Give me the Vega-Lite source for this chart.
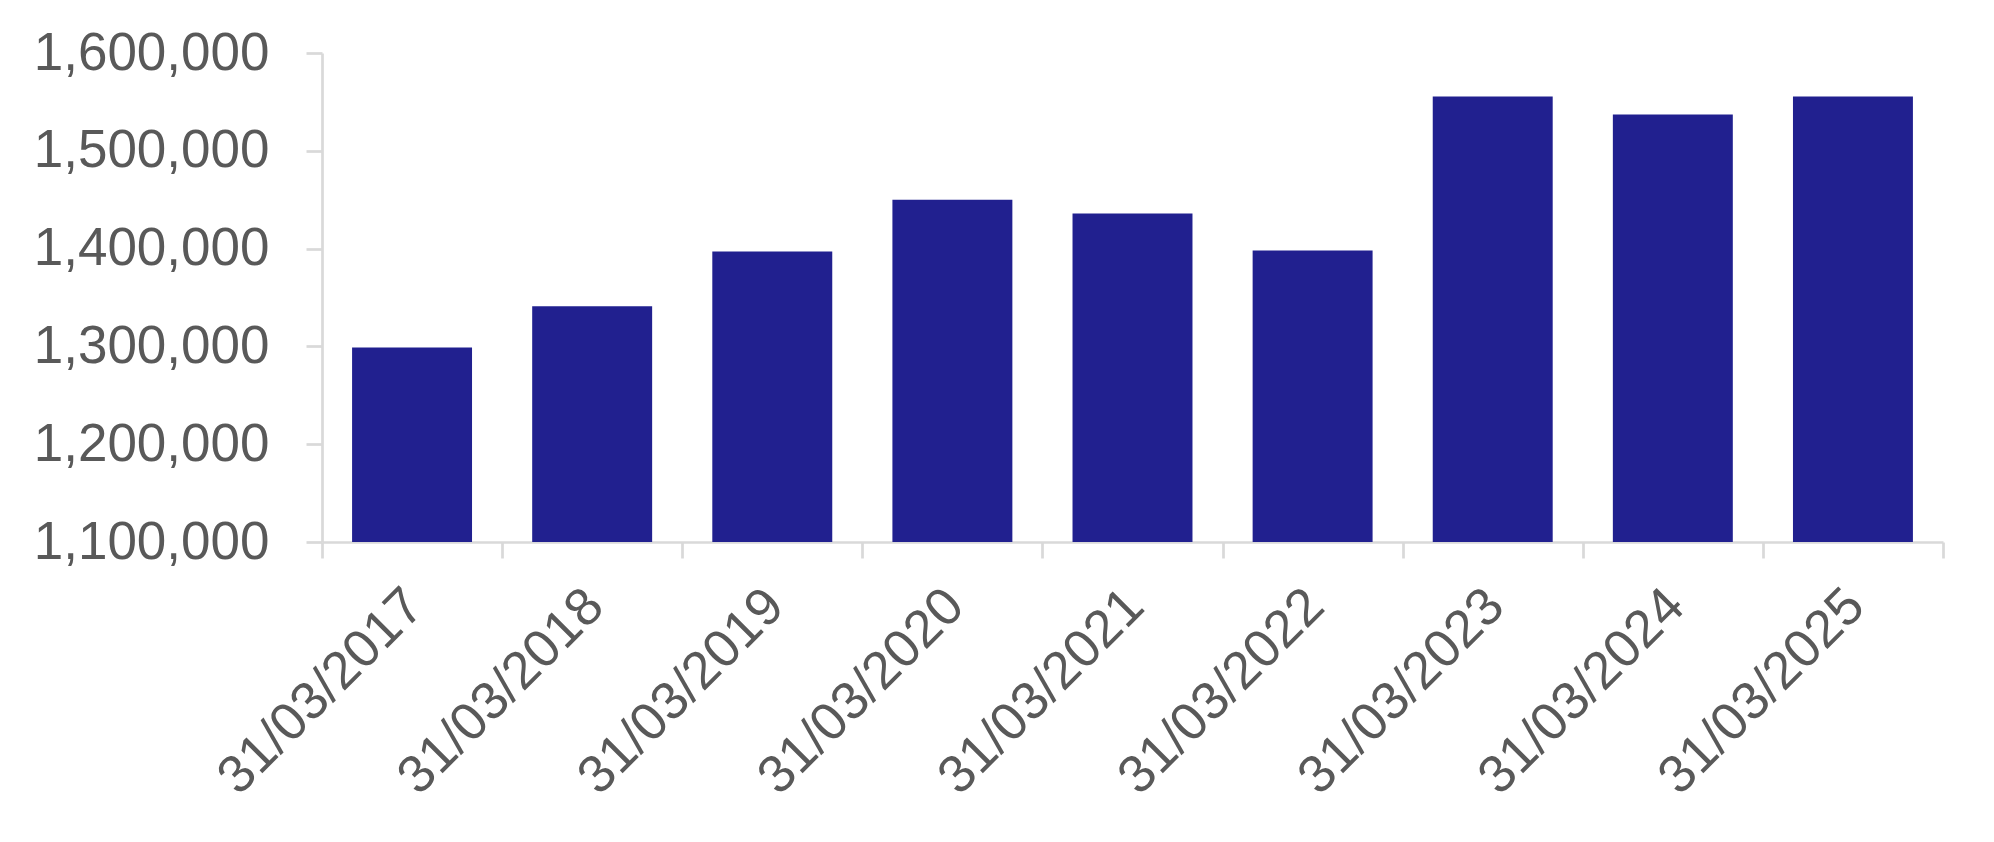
{
  "$schema": "https://vega.github.io/schema/vega-lite/v6.json",
  "width": 1621,
  "height": 489,
  "autosize": "none",
  "padding": {"left": 322, "top": 53, "right": 51, "bottom": 300},
  "background": "white",
  "data": {
    "values": [
      {"date": "31/03/2017", "value": 1299000},
      {"date": "31/03/2018", "value": 1341000},
      {"date": "31/03/2019", "value": 1397000},
      {"date": "31/03/2020", "value": 1450000},
      {"date": "31/03/2021", "value": 1436000},
      {"date": "31/03/2022", "value": 1398000},
      {"date": "31/03/2023", "value": 1555500},
      {"date": "31/03/2024", "value": 1537000},
      {"date": "31/03/2025", "value": 1555500}
    ]
  },
  "mark": {"type": "bar", "color": "#21208f", "clip": true, "width": {"band": 0.666}},
  "encoding": {
    "x": {
      "field": "date",
      "type": "nominal",
      "sort": null,
      "title": null,
      "scale": {"paddingInner": 0, "paddingOuter": 0},
      "axis": {
        "tickBand": "extent",
        "labelAngle": -45,
        "labelAlign": "right",
        "labelBaseline": "top",
        "labelPadding": 21,
        "labelOffset": -16
      }
    },
    "y": {
      "field": "value",
      "type": "quantitative",
      "title": null,
      "scale": {"domain": [1100000, 1600000], "zero": false, "nice": false},
      "axis": {
        "values": [1100000, 1200000, 1300000, 1400000, 1500000, 1600000],
        "format": ",d",
        "grid": false,
        "labelPadding": 37
      }
    }
  },
  "config": {
    "view": {"stroke": null},
    "axis": {
      "labelFont": "Liberation Sans",
      "labelFontSize": 53,
      "labelColor": "#595959",
      "labelLimit": 0,
      "domainColor": "#d9d9d9",
      "domainWidth": 2.7,
      "tickColor": "#d9d9d9",
      "tickWidth": 2.7,
      "tickSize": 16,
      "labelOverlap": false,
      "labelBound": false,
      "labelFlush": false
    }
  }
}
